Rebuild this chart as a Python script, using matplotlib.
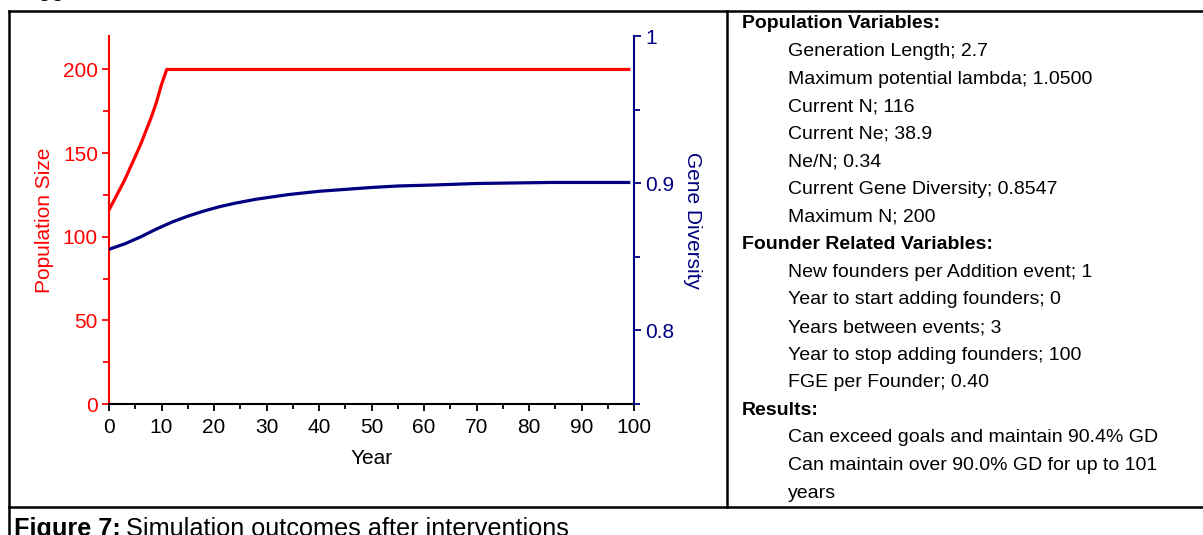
import matplotlib.pyplot as plt
from matplotlib.lines import Line2D
from matplotlib.ticker import MultipleLocator

# population size (red), capped at 200 after year 11
pop_years = [0, 1, 2, 3, 4, 5, 6, 7, 8, 9, 10, 11, 99]
pop_size = [116, 122, 128, 134, 141, 148, 155, 163, 171, 180, 191, 200, 200]

# gene diversity (navy)
gd_years = [0, 3, 6, 9, 12, 15, 18, 21, 24, 28, 34, 40, 45, 50, 55, 62, 70, 84, 99]
gd_values = [0.8551, 0.8588, 0.8635, 0.8688, 0.8736, 0.8776, 0.8810, 0.8840, 0.8864, 0.8891,
             0.8922, 0.8945, 0.8958, 0.8971, 0.8981, 0.8988, 0.8998, 0.9005, 0.9005]

x_ticks = [0, 10, 20, 30, 40, 50, 60, 70, 80, 90, 100]
left_ticks = [0, 50, 100, 150, 200]
right_ticks = [0.8, 0.9, 1.0]
right_labels = ['0.8', '0.9', '1']

headers = ['Population Variables:', 'Founder Related Variables:', 'Results:']
pop_vars = ['Generation Length; 2.7', 'Maximum potential lambda; 1.0500', 'Current N; 116',
            'Current Ne; 38.9', 'Ne/N; 0.34', 'Current Gene Diversity; 0.8547', 'Maximum N; 200']
founder_vars = ['New founders per Addition event; 1', 'Year to start adding founders; 0',
                'Years between events; 3', 'Year to stop adding founders; 100', 'FGE per Founder; 0.40']
results = ['Can exceed goals and maintain 90.4% GD', 'Can maintain over 90.0% GD for up to 101', 'years']

RED = '#ff0000'
NAVY = '#000080'
W, H = 1203, 535
plt.rcParams['font.family'] = ['Liberation Sans', 'DejaVu Sans']

fig = plt.figure(figsize=(W / 100, H / 100), dpi=100)


def fx(px):
    return px / W


def fy(py):
    return 1 - py / H


ax = fig.add_axes([fx(109), fy(404), fx(634) - fx(109), fy(36) - fy(404)])
ax.plot(pop_years, pop_size, color=RED, lw=2.3, solid_joinstyle='round')
ax.set_xlim(0, 100)
ax.set_ylim(0, 220)
ax.set_xticks(x_ticks)
ax.xaxis.set_minor_locator(MultipleLocator(5))
ax.set_yticks(left_ticks)
ax.yaxis.set_minor_locator(MultipleLocator(25))
ax.spines['top'].set_visible(False)
ax.spines['right'].set_visible(False)
ax.spines['left'].set_color(RED)
ax.spines['left'].set_linewidth(1.5)
ax.spines['bottom'].set_linewidth(1.5)
ax.tick_params(axis='y', which='both', colors=RED, width=1.3, labelsize=15, pad=3)
ax.tick_params(axis='y', which='major', length=5)
ax.tick_params(axis='y', which='minor', length=4)
ax.tick_params(axis='x', which='both', width=1.3, labelsize=15, pad=5)
ax.tick_params(axis='x', which='major', length=5)
ax.tick_params(axis='x', which='minor', length=3.5)
ax.set_xlabel('Year', fontsize=15, labelpad=9)
ax.set_ylabel('Population Size', fontsize=15, color=RED, labelpad=6)

ax2 = ax.twinx()
ax2.plot(gd_years, gd_values, color=NAVY, lw=2.3)
ax2.set_ylim(0.75, 1.0)
ax2.set_yticks(right_ticks)
ax2.set_yticklabels(right_labels)
ax2.yaxis.set_minor_locator(MultipleLocator(0.05))
for s in ['top', 'left', 'bottom']:
    ax2.spines[s].set_visible(False)
ax2.spines['right'].set_color(NAVY)
ax2.spines['right'].set_linewidth(1.5)
ax2.tick_params(axis='y', which='both', colors=NAVY, width=1.3, labelsize=15, pad=3)
ax2.tick_params(axis='y', which='major', length=5)
ax2.tick_params(axis='y', which='minor', length=4)
ax2.set_ylabel('Gene Diversity', fontsize=15, color=NAVY, rotation=270, labelpad=20)

# table borders
for x0, y0, x1, y1 in [(9, 11, W, 11), (9, 11, 9, H), (727, 11, 727, 507), (9, 507, W, 507)]:
    fig.add_artist(Line2D([fx(x0), fx(x1)], [fy(y0), fy(y1)], color='black', lw=1.8,
                          transform=fig.transFigure))

# right-hand text block
rows = [(headers[0], True)] + [(t, False) for t in pop_vars] + [(headers[1], True)] \
    + [(t, False) for t in founder_vars] + [(headers[2], True)] + [(t, False) for t in results]
for i, (txt, bold) in enumerate(rows):
    y = 24 + 27.6 * i
    fig.text(fx(742 if bold else 788), fy(y), txt, fontsize=14.0,
             fontweight='bold' if bold else 'normal', va='center', ha='left')

# caption, cut at the bottom edge
cap1 = fig.text(fx(14), fy(536), 'Figure 7:', fontsize=18.2, fontweight='bold', va='baseline')
r = fig.canvas.get_renderer()
x_end = cap1.get_window_extent(renderer=r).x1
fig.text(fx(x_end + 5), fy(536), 'Simulation outcomes after interventions', fontsize=18.2,
         va='baseline')
fig.text(fx(38), fy(-4), 'gg', fontsize=17, va='baseline')

fig.savefig('out.png', dpi=100)
